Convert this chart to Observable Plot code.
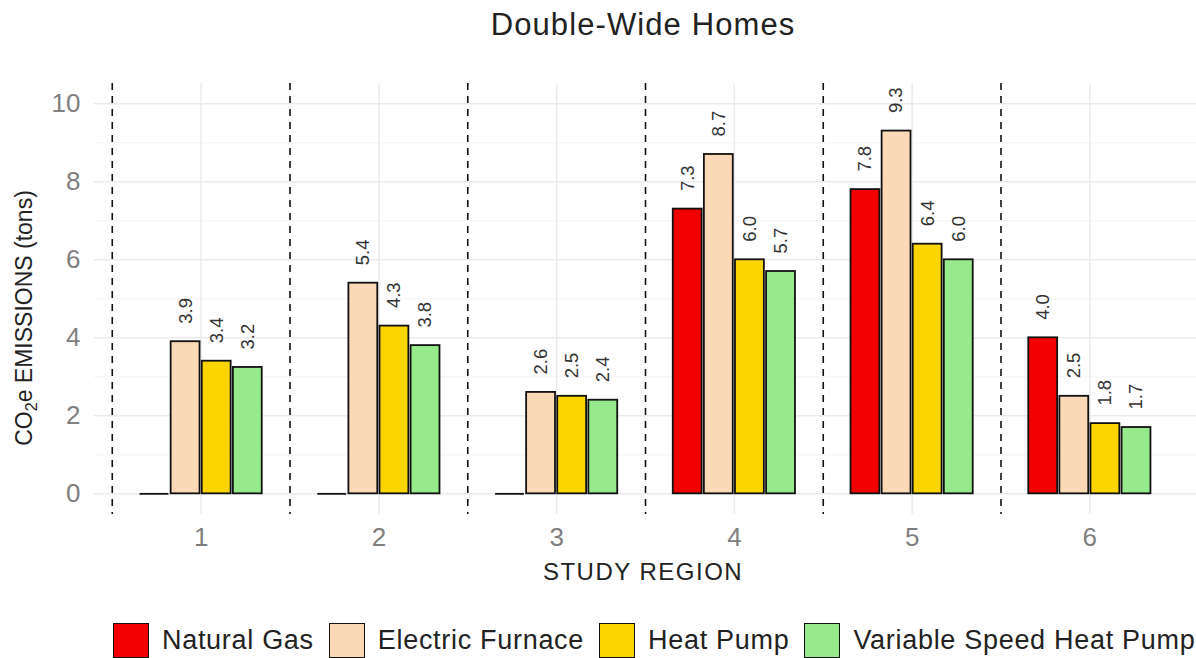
<!DOCTYPE html>
<html>
<head>
<meta charset="utf-8">
<script src="https://cdn.jsdelivr.net/npm/d3@7"></script>
<script src="https://cdn.jsdelivr.net/npm/@observablehq/plot@0.6"></script>
<style>
  html, body { margin: 0; padding: 0; background: #fff; }
  #wrap { position: relative; width: 1196px; height: 658px; background: #fff; font-family: "Liberation Sans", Arial, sans-serif; overflow: hidden; }
  #title { position: absolute; left: 90px; top: 0; width: 1106px; height: 50px; line-height: 50px; text-align: center; font-size: 31px; color: #222; letter-spacing: 1.1px; }
  #chart { position: absolute; left: 0; top: 60px; }
  #xtitle { position: absolute; left: 90px; top: 557px; width: 1106px; height: 30px; line-height: 30px; text-align: center; font-size: 24px; color: #222; letter-spacing: 1.5px; }
  #ytitle { position: absolute; left: -126px; top: 303px; width: 300px; height: 30px; line-height: 30px; text-align: center; font-size: 23px; color: #222; transform: rotate(-90deg); white-space: nowrap; }
  #ytitle sub { font-size: 0.7em; vertical-align: -0.3em; line-height: 0; }
  #legend { position: absolute; left: 113px; top: 622px; height: 36px; display: flex; align-items: center; font-size: 27px; color: #222; white-space: nowrap; }
  .key { width: 34px; height: 33px; border: 1.5px solid #111; margin-right: 13px; }
  .lab { margin-right: 15px; letter-spacing: 0.7px; }
</style>
</head>
<body>
<div id="wrap">
  <div id="title"></div>
  <div id="chart"></div>
  <div id="xtitle"></div>
  <div id="ytitle">CO<sub>2</sub>e EMISSIONS (tons)</div>
  <div id="legend"></div>
</div>
<script>
// ---- data ----
const titleText = "Double-Wide Homes";
const xTitleText = "STUDY REGION";
const regions = [1, 2, 3, 4, 5, 6];
const types = ["Natural Gas", "Electric Furnace", "Heat Pump", "Variable Speed Heat Pump"];
const colors = ["#f00000", "#fbd9b7", "#fbd500", "#97ea8b"];
const naturalGas = [0, 0, 0, 7.3, 7.8, 4.0];
const electricFurnace = [3.9, 5.4, 2.6, 8.7, 9.3, 2.5];
const heatPump = [3.4, 4.3, 2.5, 6.0, 6.4, 1.8];
const variableSpeedHeatPump = [3.24, 3.8, 2.4, 5.7, 6.0, 1.7];
const yTicks = [0, 2, 4, 6, 8, 10];
const yMinor = [1, 3, 5, 7, 9];
const separators = [0.5, 1.5, 2.5, 3.5, 4.5, 5.5];

const series = [naturalGas, electricFurnace, heatPump, variableSpeedHeatPump];
const rows = regions.flatMap((r, ri) => types.map((t, ti) => ({region: r, type: t, ti, value: series[ti][ri]})));

// dodge layout (ggplot-like: dodge width 0.7, bar width 0.65)
const dodge = 0.7, barW = 0.65 / types.length, pitch = dodge / types.length;
const left = d => d.region - dodge / 2 + d.ti * pitch + (pitch - barW) / 2;
const right = d => left(d) + barW;
const mid = d => left(d) + barW / 2;
const fmt = d3.format(".1f");

document.getElementById("title").textContent = titleText;
document.getElementById("xtitle").textContent = xTitleText;

const plot = Plot.plot({
  width: 1196,
  height: 540,
  marginTop: 23,
  marginBottom: 86,
  marginLeft: 94,
  marginRight: 0,
  style: {fontFamily: "'Liberation Sans', Arial, sans-serif", background: "#fff"},
  x: {type: "linear", domain: [0.4, 6.6], axis: null},
  y: {domain: [-0.53, 10.52], axis: null},
  color: {domain: types, range: colors},
  marks: [
    Plot.ruleY(yMinor, {stroke: "#f3f3f3", strokeWidth: 1}),
    Plot.ruleY(yTicks, {stroke: "#ebebeb", strokeWidth: 1.5}),
    Plot.ruleX(regions, {stroke: "#ebebeb", strokeWidth: 1.5}),
    Plot.ruleX(separators, {stroke: "#111", strokeWidth: 1.6, strokeDasharray: "7,6"}),
    Plot.rect(rows.filter(d => d.value > 0), {x1: left, x2: right, y1: 0, y2: "value", fill: "type", stroke: "#111", strokeWidth: 1.8}),
    Plot.ruleY(rows.filter(d => d.value === 0), {x1: left, x2: right, y: 0, stroke: "#111", strokeWidth: 1.8}),
    Plot.text(rows.filter(d => d.value > 0), {x: mid, y: "value", text: d => fmt(d.value), rotate: -90, textAnchor: "start", lineAnchor: "middle", dy: -18, fontSize: 18.5, fill: "#333"}),
    Plot.axisX({ticks: regions, tickFormat: d => String(d), tickSize: 0, tickPadding: 13, fontSize: 26, color: "#7f7f7f", label: null}),
    Plot.axisY({ticks: yTicks, tickFormat: d => String(d), tickSize: 0, tickPadding: 14, fontSize: 26, color: "#7f7f7f", label: null})
  ]
});
document.getElementById("chart").appendChild(plot);

// legend
const legend = document.getElementById("legend");
types.forEach((t, i) => {
  const k = document.createElement("span");
  k.className = "key";
  k.style.background = colors[i];
  const l = document.createElement("span");
  l.className = "lab";
  l.textContent = t;
  legend.appendChild(k);
  legend.appendChild(l);
});
</script>
</body>
</html>
